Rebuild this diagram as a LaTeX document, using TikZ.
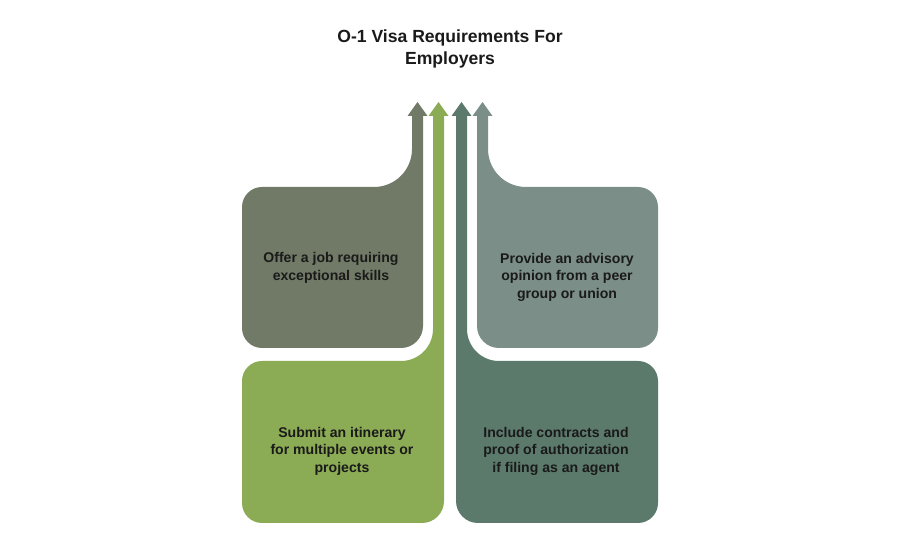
\documentclass[tikz,border=0pt]{standalone}
\usepackage{fontspec}
\setmainfont{Liberation Sans}
\definecolor{reqolive}{HTML}{717A66}
\definecolor{reqgreen}{HTML}{8BAB54}
\definecolor{reqteal}{HTML}{5B7A6C}
\definecolor{reqgray}{HTML}{7B8E88}
\definecolor{reqtext}{HTML}{1A1A1A}

\begin{document}
\begin{tikzpicture}[x=0.02cm, y=-0.02cm,
    reqlabel/.style={align=center, text=reqtext, font=\fontsize{8}{10}\selectfont\bfseries},
    reqtitle/.style={align=center, text=reqtext, font=\fontsize{10}{12.5}\selectfont\bfseries}]
    \useasboundingbox (0,0) rectangle (900,550);

    % top left
    \fill[reqolive] (417.5,102) -- (427.5,116) -- (423,116) -- (423,326) arc[start angle=0, end angle=90, radius=22]
        -- (262,348) arc[start angle=90, end angle=180, radius=20] -- (242,207) arc[start angle=180, end angle=270, radius=20]
        -- (374,187) arc[start angle=90, end angle=0, radius=38] -- (412,116) -- (407.5,116) -- cycle;
    % bottom left
    \fill[reqgreen] (438.5,102) -- (448.5,116) -- (444,116) -- (444,501) arc[start angle=0, end angle=90, radius=22]
        -- (262,523) arc[start angle=90, end angle=180, radius=20] -- (242,381) arc[start angle=180, end angle=270, radius=20]
        -- (401,361) arc[start angle=90, end angle=0, radius=32] -- (433,116) -- (428.5,116) -- cycle;
    % bottom right
    \fill[reqteal] (461.5,102) -- (451.5,116) -- (456,116) -- (456,501) arc[start angle=180, end angle=90, radius=22]
        -- (638,523) arc[start angle=90, end angle=0, radius=20] -- (658,381) arc[start angle=0, end angle=-90, radius=20]
        -- (499,361) arc[start angle=90, end angle=180, radius=32] -- (467,116) -- (471.5,116) -- cycle;
    % top right
    \fill[reqgray] (482.5,102) -- (472.5,116) -- (477,116) -- (477,326) arc[start angle=180, end angle=90, radius=22]
        -- (638,348) arc[start angle=90, end angle=0, radius=20] -- (658,207) arc[start angle=0, end angle=-90, radius=20]
        -- (526,187) arc[start angle=90, end angle=180, radius=38] -- (488,116) -- (492.5,116) -- cycle;

    \node[reqtitle](title) at (450,49){O-1 Visa Requirements For\\Employers};

    \node[reqlabel](offer) at (331,268){Offer a job requiring\\exceptional skills};
    \node[reqlabel](advisory) at (567,277){Provide an advisory\\opinion from a peer\\group or union};
    \node[reqlabel](itinerary) at (342,451){Submit an itinerary\\for multiple events or\\projects};
    \node[reqlabel](contracts) at (556,451){Include contracts and\\proof of authorization\\if filing as an agent};
\end{tikzpicture}
\end{document}
